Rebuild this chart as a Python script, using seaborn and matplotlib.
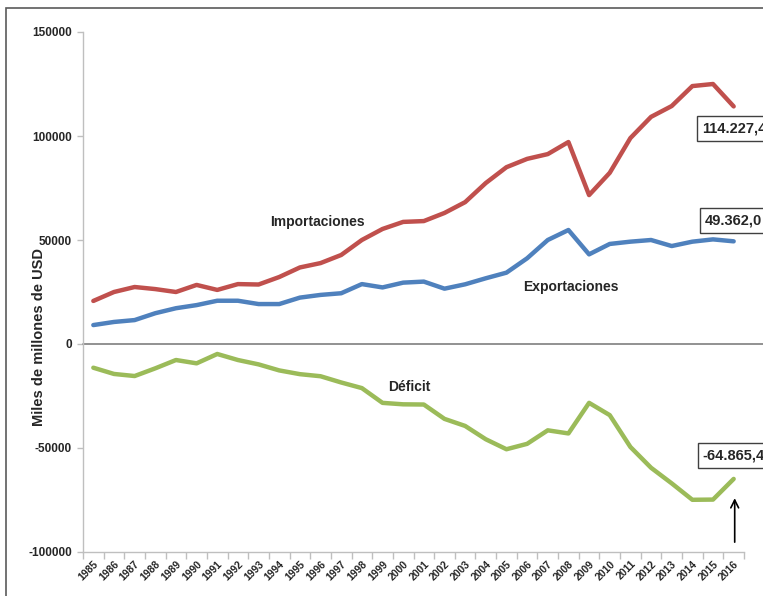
import matplotlib
matplotlib.use("Agg")
import matplotlib.pyplot as plt
from matplotlib.patches import Rectangle
import numpy as np
import pandas as pd
import seaborn as sns

# Data (miles de millones de USD)
years = list(range(1985, 2017))
importaciones = [20700, 25000, 27400, 26400, 25000, 28400, 26000, 28800, 28600, 32200,
                 36800, 38900, 42800, 50000, 55300, 58700, 59100, 63000, 68200, 77400,
                 85000, 89000, 91300, 97100, 71600, 82300, 99000, 109200, 114400, 124000,
                 125000, 114227.4]
exportaciones = [9100, 10600, 11500, 14800, 17200, 18700, 20800, 20800, 19200, 19200,
                 22300, 23600, 24400, 28800, 27200, 29500, 30000, 26600, 28700, 31600,
                 34300, 41200, 50000, 54800, 43100, 48100, 49200, 50000, 47100, 49200,
                 50300, 49362.0]
deficit = [-11400, -14400, -15400, -11700, -7700, -9300, -4800, -7700, -9800, -12700,
           -14500, -15500, -18500, -21200, -28300, -29000, -29100, -36000, -39400, -45800,
           -50600, -48000, -41500, -43000, -28300, -34200, -49500, -59500, -67000, -74900,
           -74800, -64865.4]

series_names = ["Importaciones", "Exportaciones", "Déficit"]
colors = {"Importaciones": "#C0504D", "Exportaciones": "#4F81BD", "Déficit": "#9BBB59"}
y_ticks = [-100000, -50000, 0, 50000, 100000, 150000]

df = pd.DataFrame({
    "year": years * 3,
    "value": importaciones + exportaciones + deficit,
    "serie": sum([[n] * len(years) for n in series_names], []),
})

sns.set_theme(style="white")
plt.rcParams['font.family'] = ['Liberation Sans', 'DejaVu Sans']

fig = plt.figure(figsize=(7.63, 5.96), dpi=100)
ax = fig.add_axes([83 / 763, 1 - 552 / 596, (744 - 83) / 763, (552 - 32) / 596])

sns.lineplot(data=df, x="year", y="value", hue="serie", palette=colors,
             linewidth=3.2, legend=False, ax=ax)

ax.set_xlim(1984.5, 2016.5)
ax.set_ylim(-100000, 150000)
ax.set_yticks(y_ticks)
ax.set_yticklabels([str(t) for t in y_ticks], fontweight="bold", fontsize=8.5)
ax.set_xticks(years)
ax.set_xticks(np.arange(1984.5, 2017, 1), minor=True)
ax.set_xticklabels([str(y) for y in years], rotation=45, ha="right",
                   rotation_mode="anchor", fontweight="bold", fontsize=7.5)
ax.tick_params(axis="x", which="major", length=0, pad=5)
ax.tick_params(axis="x", which="minor", length=5, color="#BFBFBF", width=1, bottom=True)
ax.tick_params(axis="y", length=4, color="#BFBFBF", width=1, left=True, pad=4)
ax.set_xlabel("")
ax.set_ylabel("")
for s in ["top", "right"]:
    ax.spines[s].set_visible(False)
for s in ["left", "bottom"]:
    ax.spines[s].set_color("#BFBFBF")
    ax.spines[s].set_linewidth(1)

# zero line running to the edge
ax.axhline(0, xmin=0, xmax=1.05, color="#7F7F7F", lw=1.2, clip_on=False, zorder=1)

fig.text(39 / 763, 1 - 337 / 596, "Miles de millones de USD", rotation=90,
         ha="center", va="center", fontsize=10.5, fontweight="bold")

# series labels
ax.text(1995.83, 58650, "Importaciones", ha="center", va="center",
        fontsize=10, fontweight="bold")
ax.text(2008.1, 27400, "Exportaciones", ha="center", va="center",
        fontsize=10, fontweight="bold")
ax.text(2000.3, -20700, "Déficit", ha="center", va="center",
        fontsize=10, fontweight="bold")

# value boxes (cut by the right edge, as in the original)
box = dict(boxstyle="square,pad=0.35", fc="white", ec="#404040", lw=1)
ax.text(2014.48, 103600, "114.227,4", ha="left", va="center", fontsize=10.5,
        fontweight="bold", bbox=box, clip_on=False)
ax.text(2014.62, 59400, "49.362,0", ha="left", va="center", fontsize=10.5,
        fontweight="bold", bbox=box, clip_on=False)
ax.text(2014.5, -53600, "-64.865,4", ha="left", va="center", fontsize=10.5,
        fontweight="bold", bbox=box, clip_on=False)

ax.annotate("", xy=(2016.05, -72800), xytext=(2016.05, -96600),
            arrowprops=dict(arrowstyle="->", color="black", lw=1.2,
                            mutation_scale=14), annotation_clip=False)

# outer frame (cut at the right and bottom)
fig.patches.append(Rectangle((6 / 763, -0.2), 2, 1.2 - 8 / 596,
                             transform=fig.transFigure, fill=False,
                             ec="#5A5A5A", lw=1.2))

fig.savefig("out.png", dpi=100)
